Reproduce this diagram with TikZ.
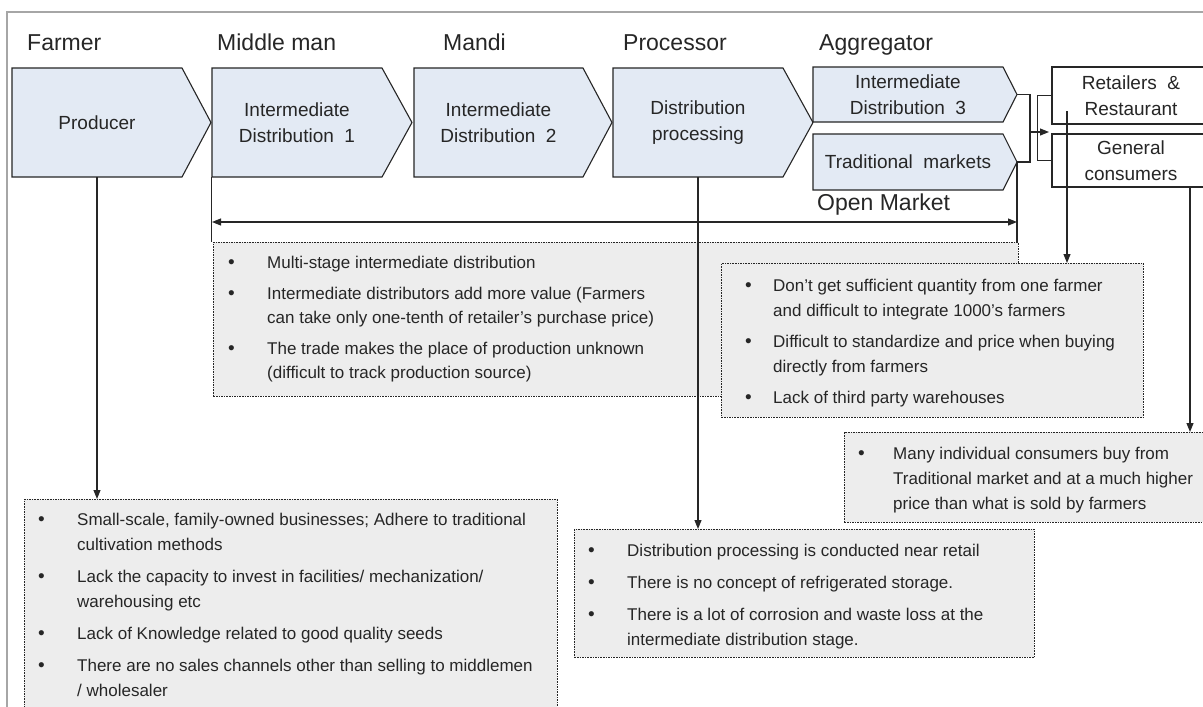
\documentclass[tikz,border=0pt]{standalone}
\usepackage{fontspec}
\setmainfont{Liberation Sans}
\usetikzlibrary{arrows.meta}

\definecolor{chevfill}{HTML}{E3EAF4}
\definecolor{notefill}{HTML}{EDEDED}
\definecolor{framegray}{HTML}{A6A6A6}
\definecolor{ink}{HTML}{262626}

\tikzset{
  chevron/.style={draw=ink, line width=1.1pt, fill=chevfill, line join=miter},
  chevtext/.style={font=\fontsize{19}{26}\selectfont, align=center, text=ink, inner sep=0pt},
  header/.style={font=\fontsize{23}{27}\selectfont, anchor=base west, inner sep=0pt, text=ink},
  notebox/.style={draw=ink, dash pattern=on 1.6pt off 1pt, line width=0.8pt, fill=notefill,
                  anchor=north west, inner sep=0pt},
  notetext/.style={font=\fontsize{17}{20}\selectfont, anchor=base west, inner sep=0pt, text=ink},
  bulletmark/.style={font=\fontsize{19}{20}\selectfont, anchor=base west, inner sep=0pt, text=ink},
  link/.style={draw=ink, line width=1.1pt},
  arrowlink/.style={link, -{Triangle[length=9pt,width=7pt]}},
  twoway/.style={link, {Triangle[length=9pt,width=7pt]}-{Triangle[length=9pt,width=7pt]}},
  endbox/.style={draw=ink, line width=1.1pt, fill=white, font=\fontsize{19}{26}\selectfont,
                 align=center, text=ink, inner sep=0pt},
}

% chevron: name, left, top, body right, bottom, tip x, label
\newcommand{\chevronbox}[7]{%
  \path[chevron] (#2,#3) -- (#4,#3) -- (#6,{(#3+#5)/2}) -- (#4,#5) -- (#2,#5) -- cycle;
  \node[chevtext, minimum width={#4-#2}, minimum height={#5-#3}] (#1) at ({(#2+#4)/2},{(#3+#5)/2}) {#7};
  \coordinate (#1-tip) at (#6,{(#3+#5)/2});
}
% one bullet line: bullet x, text x, baseline y, text
\newcommand{\bulletline}[4]{%
  \node[bulletmark] at (#1,#3) {\textbullet};
  \node[notetext] at (#2,#3) {#4};
}
% continuation line of an item
\newcommand{\moreline}[3]{%
  \node[notetext] at (#1,#2) {#3};
}

\begin{document}
\begin{tikzpicture}[x=1pt, y=-1pt]
  \useasboundingbox (0,0) rectangle (1203,707);
  \clip (0,0) rectangle (1203,707);
  \fill[white] (0,0) rectangle (1203,707);

  % outer frame
  \draw[framegray, line width=1.6pt] (7,720) -- (7,12) -- (1215,12);

  % stage headers
  \node[header] (hfarmer) at (27,50) {Farmer};
  \node[header] (hmiddle) at (217,50) {Middle man};
  \node[header] (hmandi)  at (443,50) {Mandi};
  \node[header] (hproc)   at (623,50) {Processor};
  \node[header] (hagg)    at (819,50) {Aggregator};

  % value chain
  \chevronbox{prod}{12}{68}{182}{177}{211}{Producer}
  \chevronbox{idone}{212}{68}{382}{177}{412}{Intermediate\\Distribution\ \ 1}
  \chevronbox{idtwo}{414}{68}{583}{177}{612}{Intermediate\\Distribution\ \ 2}
  \chevronbox{proc}{613}{68}{783}{177}{813}{Distribution\\processing}
  \chevronbox{idthree}{813}{67}{1003}{122}{1017}{Intermediate\\Distribution\ \ 3}
  \chevronbox{trad}{813}{134}{1003}{190}{1017}{Traditional\ \ markets}

  % end customers
  \node[endbox, minimum width=158, minimum height=57] (retail) at (1131,95.5) {Retailers\ \ \&\\Restaurant};
  \node[endbox, minimum width=158, minimum height=53] (consumer) at (1131,160.5) {General\\consumers};

  % issue boxes
  \node[notebox, minimum width=805, minimum height=154] (mmnote) at (213,242) {};
  \node[notebox, minimum width=422, minimum height=154] (aggnote) at (721,263) {};
  \node[notebox, minimum width=371, minimum height=90] (manynote) at (844,432) {};
  \node[notebox, minimum width=460, minimum height=128] (distnote) at (574,529) {};
  \node[notebox, minimum width=533, minimum height=230] (farmnote) at (24,499) {};

  % middle man issues
  \bulletline{228}{267}{268}{Multi-stage intermediate distribution}
  \bulletline{228}{267}{299}{Intermediate distributors add more value (Farmers}
  \moreline{267}{323}{can take only one-tenth of retailer's purchase price)}
  \bulletline{228}{267}{354}{The trade makes the place of production unknown}
  \moreline{267}{378}{(difficult to track production source)}

  % aggregator issues
  \bulletline{745}{773}{291}{Don’t get sufficient quantity from one farmer}
  \moreline{773}{316}{and difficult to integrate 1000’s farmers}
  \bulletline{745}{773}{347}{Difficult to standardize and price when buying}
  \moreline{773}{372}{directly from farmers}
  \bulletline{745}{773}{403}{Lack of third party warehouses}

  % consumer issues
  \bulletline{858}{893}{459}{Many individual consumers buy from}
  \moreline{893}{484}{Traditional market and at a much higher}
  \moreline{893}{509}{price than what is sold by farmers}

  % processor issues
  \bulletline{588}{627}{556}{Distribution processing is conducted near retail}
  \bulletline{588}{627}{588}{There is no concept of refrigerated storage.}
  \bulletline{588}{627}{620}{There is a lot of corrosion and waste loss at the}
  \moreline{627}{645}{intermediate distribution stage.}

  % farmer issues
  \bulletline{38}{77}{525}{Small-scale, family-owned businesses; Adhere to traditional}
  \moreline{77}{550}{cultivation methods}
  \bulletline{38}{77}{582}{Lack the capacity to invest in facilities/ mechanization/}
  \moreline{77}{607}{warehousing etc}
  \bulletline{38}{77}{639}{Lack of Knowledge related to good quality seeds}
  \bulletline{38}{77}{671}{There are no sales channels other than selling to middlemen}
  \moreline{77}{696}{/ wholesaler}

  % brackets joining the aggregator outlets to the customers
  \draw[link] (idthree-tip) -- ++(13,0) |- (trad-tip);
  \draw[link] (retail.west) -- ++(-14,0) |- (consumer.west);
  \coordinate (mergeout) at (1030,132);
  \coordinate (mergein) at (1049,132);
  \draw[arrowlink] (mergeout) -- (mergein);

  % open market span
  \draw[link] (idone.south west) -- (idone.south west |- mmnote.north);
  \draw[link] (trad-tip) -- (trad-tip |- mmnote.north);
  \coordinate (omleft) at (212,222);
  \coordinate (omright) at (1017,222);
  \draw[twoway] (omleft) -- (omright);
  \node[header] (openmarket) at (817,210) {Open Market};

  % links to the issue boxes
  \draw[arrowlink] (prod.south) -- (prod.south |- farmnote.north);
  \draw[arrowlink] (proc.south) -- (proc.south |- distnote.north);
  \coordinate (retailsrc) at (1067,111);
  \draw[arrowlink] (retailsrc) -- (retailsrc |- aggnote.north);
  \coordinate (consumersrc) at (1190,187);
  \draw[arrowlink] (consumersrc) -- (consumersrc |- manynote.north);
\end{tikzpicture}
\end{document}
